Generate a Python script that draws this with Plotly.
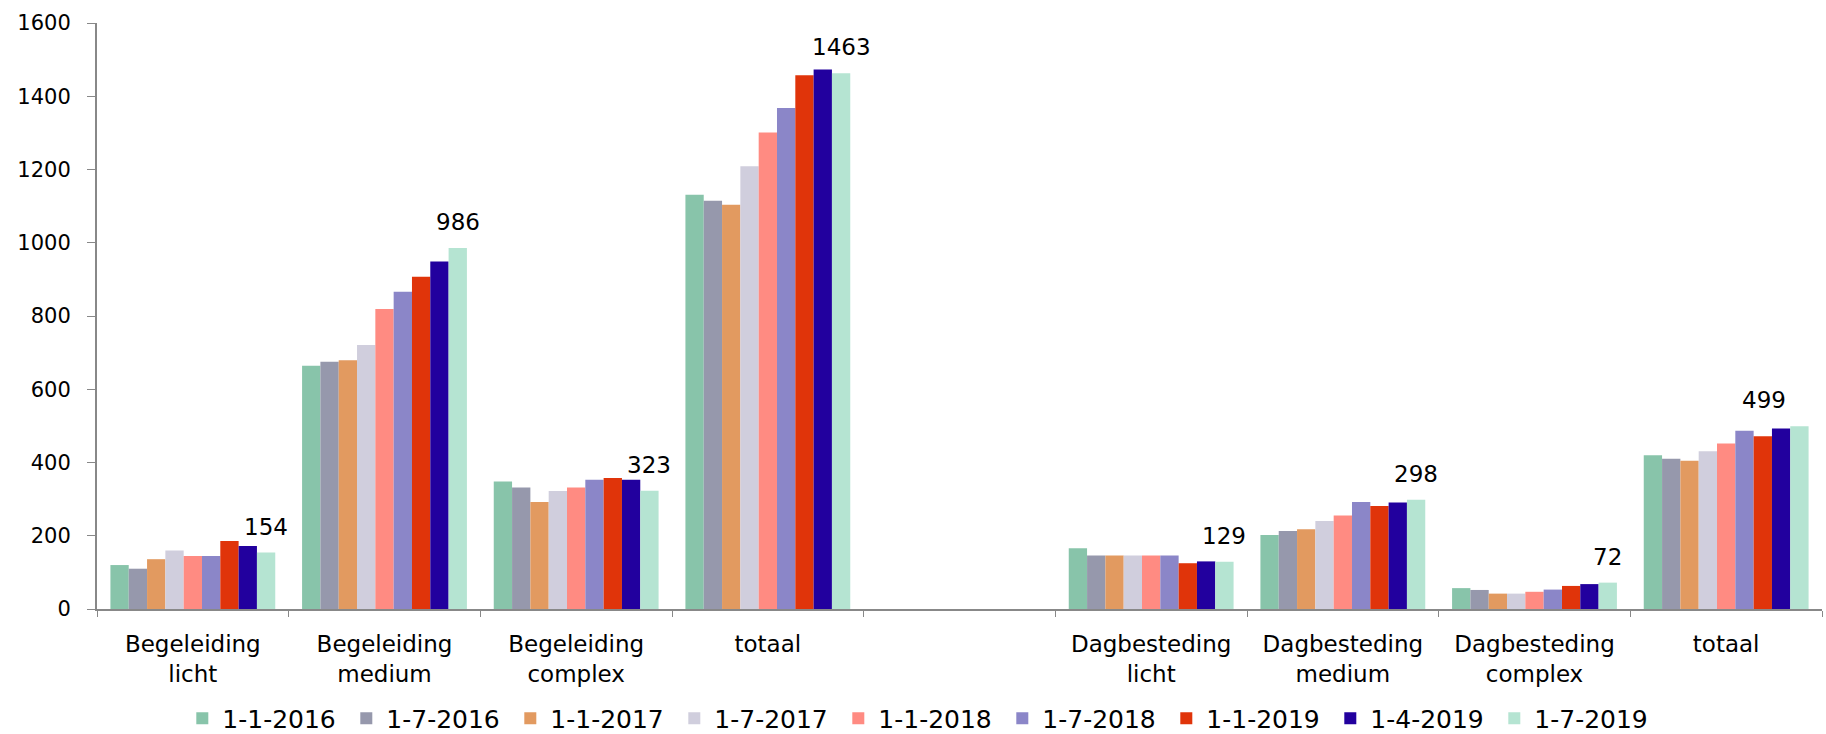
import plotly.graph_objects as go

categories = ["c0", "c1", "c2", "c3", "c4", "c5", "c6", "c7", "c8"]
category_labels = ["Begeleiding<br>licht", "Begeleiding<br>medium", "Begeleiding<br>complex", "totaal", "",
                   "Dagbesteding<br>licht", "Dagbesteding<br>medium", "Dagbesteding<br>complex", "totaal"]

series_names = ["1-1-2016", "1-7-2016", "1-1-2017", "1-7-2017", "1-1-2018",
                "1-7-2018", "1-1-2019", "1-4-2019", "1-7-2019"]

v_2016_01 = [120, 664, 348, 1131, None, 166, 202, 57, 420]
v_2016_07 = [110, 675, 332, 1115, None, 146, 213, 52, 410]
v_2017_01 = [136, 679, 292, 1104, None, 146, 218, 42, 405]
v_2017_07 = [160, 721, 322, 1209, None, 146, 240, 42, 431]
v_2018_01 = [145, 819, 332, 1301, None, 146, 255, 47, 452]
v_2018_07 = [145, 866, 353, 1368, None, 146, 292, 53, 487]
v_2019_01 = [186, 907, 358, 1457, None, 125, 281, 63, 472]
v_2019_04 = [172, 949, 353, 1473, None, 130, 291, 68, 493]
v_2019_07 = [154, 986, 323, 1463, None, 129, 298, 72, 499]

series_values = [v_2016_01, v_2016_07, v_2017_01, v_2017_07, v_2018_01,
                 v_2018_07, v_2019_01, v_2019_04, v_2019_07]

colors = ["#88C4AA", "#9698AC", "#E29A60", "#D0CEDD", "#FF8B82",
          "#8B86C8", "#E0340A", "#22009E", "#B5E4D2"]

y_ticks = [0, 200, 400, 600, 800, 1000, 1200, 1400, 1600]

FONT = "DejaVu Sans"
BARGAP = 0.14

fig = go.Figure()
for name, vals, col in zip(series_names, series_values, colors):
    fig.add_trace(go.Bar(x=categories, y=vals, name=name, marker_color=col,
                         marker_line_width=0))

# data labels on the last series
n = len(series_names)
bw = (1 - BARGAP) / n
off = (n - 1 - (n - 1) / 2) * bw
last = len(v_2019_07) - 1
for i, v in enumerate(v_2019_07):
    if v is None:
        continue
    fig.add_annotation(x=i + off, y=v, text=str(v), showarrow=False,
                       xref="x", yref="y", yanchor="bottom", yshift=11,
                       xshift=-35 if i == last else 0,
                       font=dict(family=FONT, size=23, color="#000000"))

fig.update_layout(
    width=1826, height=734,
    margin=dict(l=97, r=4, t=23, b=125, autoexpand=False),
    paper_bgcolor="white", plot_bgcolor="white",
    barmode="group", bargap=BARGAP, bargroupgap=0,
    font=dict(family=FONT, color="#000000"),
    showlegend=True,
    legend=dict(orientation="h", xref="container", yref="container",
                x=0.504, xanchor="center", y=0.021, yanchor="middle",
                font=dict(family=FONT, size=25, color="#000000"),
                entrywidth=119, itemwidth=30, traceorder="normal"),
)
fig.update_xaxes(type="category", categoryorder="array", categoryarray=categories,
                 tickvals=categories, ticktext=category_labels,
                 tickson="boundaries", ticks="outside", ticklen=6, tickcolor="#888888",
                 showline=True, linecolor="#888888", linewidth=2, showgrid=False,
                 ticklabelstandoff=13, automargin=False,
                 tickfont=dict(family=FONT, size=23, color="#000000"),
                 range=[-0.5, 8.5])
fig.update_yaxes(range=[0, 1600], tickvals=y_ticks, ticks="outside", ticklen=8,
                 tickcolor="#888888", showline=True, linecolor="#888888", linewidth=2,
                 showgrid=False, zeroline=False, ticklabelstandoff=12, automargin=False,
                 tickfont=dict(family=FONT, size=21, color="#000000"))

fig.write_html("out.html", config={"displayModeBar": False},
               post_script="document.body.style.margin='0';document.body.style.overflow='hidden';")
